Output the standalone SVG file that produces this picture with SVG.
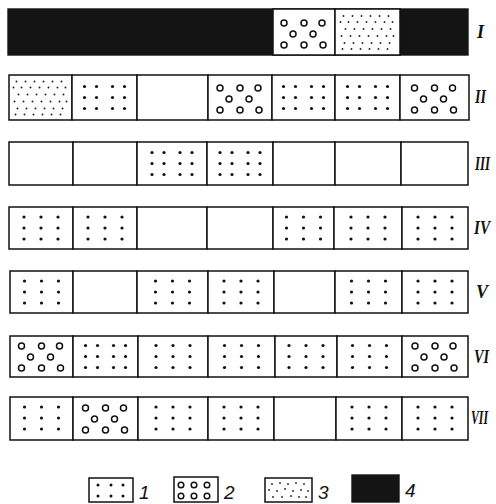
<svg xmlns="http://www.w3.org/2000/svg" xmlns:xlink="http://www.w3.org/1999/xlink" width="496" height="504" viewBox="0 0 496 504">
<style>
.cell{fill:#fff;stroke:#111;stroke-width:1.5}
.blk{fill:#141414;stroke:#141414;stroke-width:1.4}
.d{fill:#111}
.c{fill:none;stroke:#111;stroke-width:1.5}
.s{fill:#222}
.lab{font-family:"Liberation Serif",serif;font-style:italic;font-weight:bold;font-size:18px;fill:#111}
.num{font-family:"Liberation Sans",sans-serif;font-style:italic;font-size:19px;fill:#111}
</style>
<defs>
<g id="dots4">
<circle class="d" cx="-20" cy="-11" r="1.6"/><circle class="d" cx="-8" cy="-11" r="1.6"/><circle class="d" cx="8" cy="-11" r="1.6"/><circle class="d" cx="20" cy="-11" r="1.6"/>
<circle class="d" cx="-20" cy="0" r="1.6"/><circle class="d" cx="-8" cy="0" r="1.6"/><circle class="d" cx="8" cy="0" r="1.6"/><circle class="d" cx="20" cy="0" r="1.6"/>
<circle class="d" cx="-20" cy="11" r="1.6"/><circle class="d" cx="-8" cy="11" r="1.6"/><circle class="d" cx="8" cy="11" r="1.6"/><circle class="d" cx="20" cy="11" r="1.6"/>
</g>
<g id="dots3">
<circle class="d" cx="-17" cy="-11" r="1.6"/><circle class="d" cx="0" cy="-11" r="1.6"/><circle class="d" cx="17" cy="-11" r="1.6"/>
<circle class="d" cx="-17" cy="0" r="1.6"/><circle class="d" cx="0" cy="0" r="1.6"/><circle class="d" cx="17" cy="0" r="1.6"/>
<circle class="d" cx="-17" cy="11" r="1.6"/><circle class="d" cx="0" cy="11" r="1.6"/><circle class="d" cx="17" cy="11" r="1.6"/>
</g>
<g id="circ">
<circle class="c" cx="-20" cy="-10" r="3"/><circle class="c" cx="0" cy="-10" r="3"/><circle class="c" cx="18" cy="-10" r="3"/>
<circle class="c" cx="-11" cy="1" r="3"/><circle class="c" cx="9" cy="1" r="3"/>
<circle class="c" cx="-20" cy="12" r="3"/><circle class="c" cx="0" cy="12" r="3"/><circle class="c" cx="19" cy="12" r="3"/>
</g>
<g id="stip">
<circle class="s" cx="-24" cy="-16" r="0.95"/><circle class="s" cx="-15" cy="-16" r="0.95"/><circle class="s" cx="-6" cy="-16" r="0.95"/><circle class="s" cx="3" cy="-16" r="0.95"/><circle class="s" cx="12" cy="-16" r="0.95"/><circle class="s" cx="21" cy="-16" r="0.95"/>
<circle class="s" cx="-27" cy="-10" r="0.95"/><circle class="s" cx="-19" cy="-10" r="0.95"/><circle class="s" cx="-10" cy="-10" r="0.95"/><circle class="s" cx="-1" cy="-10" r="0.95"/><circle class="s" cx="8" cy="-10" r="0.95"/><circle class="s" cx="17" cy="-10" r="0.95"/><circle class="s" cx="25" cy="-10" r="0.95"/>
<circle class="s" cx="-22" cy="-3" r="0.95"/><circle class="s" cx="-13" cy="-3" r="0.95"/><circle class="s" cx="-4" cy="-3" r="0.95"/><circle class="s" cx="5" cy="-3" r="0.95"/><circle class="s" cx="14" cy="-3" r="0.95"/><circle class="s" cx="23" cy="-3" r="0.95"/>
<circle class="s" cx="-26" cy="4" r="0.95"/><circle class="s" cx="-17" cy="4" r="0.95"/><circle class="s" cx="-8" cy="4" r="0.95"/><circle class="s" cx="1" cy="4" r="0.95"/><circle class="s" cx="10" cy="4" r="0.95"/><circle class="s" cx="19" cy="4" r="0.95"/><circle class="s" cx="26" cy="4" r="0.95"/>
<circle class="s" cx="-23" cy="11" r="0.95"/><circle class="s" cx="-14" cy="11" r="0.95"/><circle class="s" cx="-5" cy="11" r="0.95"/><circle class="s" cx="4" cy="11" r="0.95"/><circle class="s" cx="13" cy="11" r="0.95"/><circle class="s" cx="22" cy="11" r="0.95"/>
<circle class="s" cx="-25" cy="17" r="0.95"/><circle class="s" cx="-16" cy="17" r="0.95"/><circle class="s" cx="-7" cy="17" r="0.95"/><circle class="s" cx="2" cy="17" r="0.95"/><circle class="s" cx="11" cy="17" r="0.95"/><circle class="s" cx="20" cy="17" r="0.95"/>
</g>
</defs>

<g id="row1">
<rect class="blk" x="8" y="9" width="460" height="46"/>
<rect class="cell" x="273" y="9" width="62" height="46"/><use xlink:href="#circ" transform="translate(304,33)"/>
<rect class="cell" x="335" y="9" width="65" height="46"/><use xlink:href="#stip" transform="translate(367.5,32)"/>
<text class="lab" x="477" y="38">I</text>
</g>

<g id="row2">
<rect class="cell" x="9" y="75" width="63" height="45"/><use xlink:href="#stip" transform="translate(40.5,97.5)"/>
<rect class="cell" x="72" y="75" width="65" height="45"/><use xlink:href="#dots4" transform="translate(104.5,97.5)"/>
<rect class="cell" x="137" y="75" width="71" height="45"/>
<rect class="cell" x="208" y="75" width="64" height="45"/><use xlink:href="#circ" transform="translate(240,98)"/>
<rect class="cell" x="272" y="75" width="63" height="45"/><use xlink:href="#dots4" transform="translate(303.5,97.5)"/>
<rect class="cell" x="335" y="75" width="65" height="45"/><use xlink:href="#dots4" transform="translate(367.5,97.5)"/>
<rect class="cell" x="400" y="75" width="69" height="45"/><use xlink:href="#circ" transform="translate(434.5,98)"/>
<text class="lab" x="475" y="103" textLength="11" lengthAdjust="spacingAndGlyphs">II</text>
</g>

<g id="row3">
<rect class="cell" x="9" y="142" width="64" height="43"/>
<rect class="cell" x="73" y="142" width="64" height="43"/>
<rect class="cell" x="137" y="142" width="70" height="43"/><use xlink:href="#dots4" transform="translate(172,163.5)"/>
<rect class="cell" x="207" y="142" width="66" height="43"/><use xlink:href="#dots4" transform="translate(240,163.5)"/>
<rect class="cell" x="273" y="142" width="62" height="43"/>
<rect class="cell" x="335" y="142" width="66" height="43"/>
<rect class="cell" x="401" y="142" width="67" height="43"/>
<text class="lab" x="475" y="170" textLength="15" lengthAdjust="spacingAndGlyphs">III</text>
</g>

<g id="row4">
<rect class="cell" x="9" y="207" width="64" height="42"/><use xlink:href="#dots3" transform="translate(41,228)"/>
<rect class="cell" x="73" y="207" width="64" height="42"/><use xlink:href="#dots3" transform="translate(105,228)"/>
<rect class="cell" x="137" y="207" width="70" height="42"/>
<rect class="cell" x="207" y="207" width="66" height="42"/>
<rect class="cell" x="273" y="207" width="61" height="42"/><use xlink:href="#dots3" transform="translate(303.5,228)"/>
<rect class="cell" x="334" y="207" width="68" height="42"/><use xlink:href="#dots3" transform="translate(368,228)"/>
<rect class="cell" x="402" y="207" width="66" height="42"/><use xlink:href="#dots3" transform="translate(435,228)"/>
<text class="lab" x="474" y="234" textLength="16" lengthAdjust="spacingAndGlyphs">IV</text>
</g>

<g id="row5">
<rect class="cell" x="10" y="271" width="63" height="42"/><use xlink:href="#dots3" transform="translate(41.5,292)"/>
<rect class="cell" x="73" y="271" width="64" height="42"/>
<rect class="cell" x="137" y="271" width="71" height="42"/><use xlink:href="#dots3" transform="translate(172.5,292)"/>
<rect class="cell" x="208" y="271" width="66" height="42"/><use xlink:href="#dots3" transform="translate(241,292)"/>
<rect class="cell" x="274" y="271" width="61" height="42"/>
<rect class="cell" x="335" y="271" width="67" height="42"/><use xlink:href="#dots3" transform="translate(368.5,292)"/>
<rect class="cell" x="402" y="271" width="66" height="42"/><use xlink:href="#dots3" transform="translate(435,292)"/>
<text class="lab" x="476" y="298">V</text>
</g>

<g id="row6">
<rect class="cell" x="10" y="336" width="63" height="41"/><use xlink:href="#circ" transform="translate(41.5,356)"/>
<rect class="cell" x="73" y="336" width="65" height="41"/><use xlink:href="#dots4" transform="translate(105.5,356.5)"/>
<rect class="cell" x="138" y="336" width="70" height="41"/><use xlink:href="#dots3" transform="translate(173,356.5)"/>
<rect class="cell" x="208" y="336" width="67" height="41"/><use xlink:href="#dots3" transform="translate(241.5,356.5)"/>
<rect class="cell" x="275" y="336" width="62" height="41"/><use xlink:href="#dots3" transform="translate(306,356.5)"/>
<rect class="cell" x="337" y="336" width="65" height="41"/><use xlink:href="#dots3" transform="translate(369.5,356.5)"/>
<rect class="cell" x="402" y="336" width="66" height="41"/><use xlink:href="#circ" transform="translate(435,356)"/>
<text class="lab" x="474" y="363" textLength="15" lengthAdjust="spacingAndGlyphs">VI</text>
</g>

<g id="row7">
<rect class="cell" x="10" y="397" width="63" height="43"/><use xlink:href="#dots3" transform="translate(41.5,418)"/>
<rect class="cell" x="73" y="397" width="65" height="43"/><use xlink:href="#circ" transform="translate(105.5,418)"/>
<rect class="cell" x="138" y="397" width="70" height="43"/><use xlink:href="#dots3" transform="translate(173,418)"/>
<rect class="cell" x="208" y="397" width="66" height="43"/><use xlink:href="#dots3" transform="translate(241,418)"/>
<rect class="cell" x="274" y="397" width="62" height="43"/>
<rect class="cell" x="336" y="397" width="66" height="43"/><use xlink:href="#dots3" transform="translate(369,418)"/>
<rect class="cell" x="402" y="397" width="66" height="43"/><use xlink:href="#dots3" transform="translate(435,418)"/>
<text class="lab" x="471" y="424" font-size="14" textLength="17" lengthAdjust="spacingAndGlyphs">VII</text>
</g>

<g id="legend">
<g id="leg1">
<rect class="cell" x="89" y="478" width="44" height="24"/>
<circle class="d" cx="98" cy="485" r="1.5"/><circle class="d" cx="111" cy="485" r="1.5"/><circle class="d" cx="123" cy="485" r="1.5"/>
<circle class="d" cx="98" cy="496" r="1.5"/><circle class="d" cx="111" cy="496" r="1.5"/><circle class="d" cx="123" cy="496" r="1.5"/>
<text class="num" x="139" y="499">1</text>
</g>
<g id="leg2">
<rect class="cell" x="174" y="477" width="44" height="25"/>
<circle class="c" cx="181" cy="485" r="2.8"/><circle class="c" cx="194" cy="485" r="2.8"/><circle class="c" cx="207" cy="485" r="2.8"/>
<circle class="c" cx="181" cy="496" r="2.8"/><circle class="c" cx="194" cy="496" r="2.8"/><circle class="c" cx="207" cy="496" r="2.8"/>
<text class="num" x="224" y="499">2</text>
</g>
<g id="leg3">
<rect class="cell" x="265" y="478" width="47" height="24"/>
<circle class="s" cx="272" cy="484" r="0.9"/><circle class="s" cx="280" cy="483" r="0.9"/><circle class="s" cx="288" cy="484" r="0.9"/><circle class="s" cx="296" cy="483" r="0.9"/><circle class="s" cx="304" cy="484" r="0.9"/>
<circle class="s" cx="269" cy="490" r="0.9"/><circle class="s" cx="277" cy="491" r="0.9"/><circle class="s" cx="285" cy="489" r="0.9"/><circle class="s" cx="293" cy="491" r="0.9"/><circle class="s" cx="301" cy="490" r="0.9"/><circle class="s" cx="308" cy="491" r="0.9"/>
<circle class="s" cx="273" cy="497" r="0.9"/><circle class="s" cx="282" cy="497" r="0.9"/><circle class="s" cx="291" cy="496" r="0.9"/><circle class="s" cx="299" cy="497" r="0.9"/><circle class="s" cx="306" cy="497" r="0.9"/>
<text class="num" x="318" y="499">3</text>
</g>
<g id="leg4">
<rect class="blk" x="352" y="475" width="47" height="27"/>
<text class="num" x="405" y="497">4</text>
</g>
</g>
</svg>
